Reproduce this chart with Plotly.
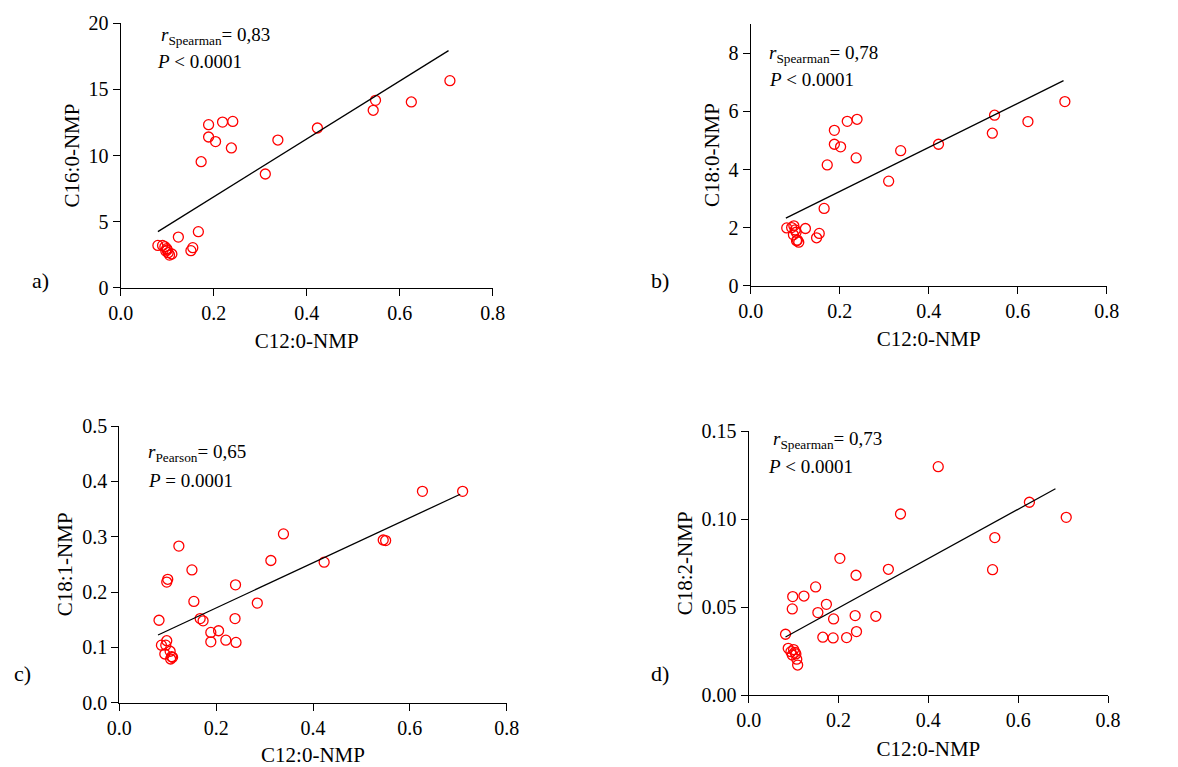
import plotly.graph_objects as go

# ---------------- data ----------------
a_x = [0.080, 0.090, 0.095, 0.099, 0.097, 0.100, 0.102, 0.105, 0.110,
       0.124, 0.151, 0.155, 0.167, 0.173, 0.189, 0.189, 0.204, 0.219, 0.238, 0.241,
       0.311, 0.338, 0.423, 0.543, 0.548, 0.625, 0.708]
a_y = [3.20, 3.20, 3.10, 2.95, 2.77, 2.85, 2.65, 2.47, 2.55,
       3.83, 2.80, 3.03, 4.24, 9.53, 12.33, 11.40, 11.05, 12.53, 10.57, 12.58,
       8.60, 11.17, 12.08, 13.42, 14.17, 14.05, 15.66]

b_x = [0.081, 0.092, 0.097, 0.100, 0.096, 0.102, 0.103, 0.105, 0.108,
       0.123, 0.148, 0.154, 0.165, 0.172, 0.188, 0.188, 0.202, 0.217, 0.237, 0.239,
       0.310, 0.337, 0.422, 0.543, 0.548, 0.623, 0.706]
b_y = [1.99, 2.00, 2.06, 1.92, 1.75, 1.84, 1.55, 1.57, 1.50,
       1.97, 1.65, 1.80, 2.66, 4.16, 5.35, 4.87, 4.78, 5.66, 4.40, 5.73,
       3.60, 4.65, 4.87, 5.25, 5.87, 5.65, 6.34]

c_x = [0.082, 0.087, 0.098, 0.096, 0.094, 0.105, 0.108, 0.106, 0.110, 0.100, 0.098,
       0.123, 0.150, 0.154, 0.167, 0.173, 0.189, 0.205, 0.189, 0.220, 0.241, 0.239, 0.240,
       0.285, 0.313, 0.339, 0.423, 0.545, 0.550, 0.626, 0.709]
c_y = [0.149, 0.104, 0.112, 0.104, 0.088, 0.093, 0.083, 0.079, 0.082, 0.223, 0.218,
       0.283, 0.240, 0.183, 0.152, 0.148, 0.127, 0.130, 0.110, 0.113, 0.109, 0.152, 0.213,
       0.180, 0.257, 0.305, 0.254, 0.294, 0.293, 0.382, 0.382]

d_x = [0.082, 0.088, 0.094, 0.097, 0.100, 0.103, 0.105, 0.107, 0.109, 0.098, 0.097,
       0.123, 0.149, 0.154, 0.173, 0.165, 0.189, 0.188, 0.203, 0.218, 0.239, 0.237, 0.240,
       0.283, 0.311, 0.338, 0.422, 0.543, 0.548, 0.625, 0.707]
d_y = [0.0347, 0.0267, 0.0248, 0.0229, 0.0260, 0.0244, 0.0235, 0.0205, 0.0172, 0.0561, 0.0491,
       0.0564, 0.0616, 0.0470, 0.0517, 0.0330, 0.0434, 0.0326, 0.0778, 0.0328, 0.0682, 0.0453, 0.0362,
       0.0449, 0.0716, 0.1030, 0.1299, 0.0714, 0.0896, 0.1097, 0.1011]

# regression lines as drawn (slope, intercept, x extent)
fit_slope = [21.9, 7.58, 0.4076, 0.1402]
fit_intercept = [2.49, 1.73, 0.0897, 0.0216]
fit_x_range = [[0.080, 0.705], [0.079, 0.703], [0.080, 0.704], [0.082, 0.683]]

y_titles = ["C16:0-NMP", "C18:0-NMP", "C18:1-NMP", "C18:2-NMP"]
x_title = "C12:0-NMP"
panel_labels = ["a)", "b)", "c)", "d)"]
r_texts = ["<i>r</i><sub>Spearman</sub>= 0,83", "<i>r</i><sub>Spearman</sub>= 0,78",
           "<i>r</i><sub>Pearson</sub>= 0,65", "<i>r</i><sub>Spearman</sub>= 0,73"]
p_texts = ["<i>P</i> < 0.0001", "<i>P</i> < 0.0001", "<i>P</i> = 0.0001", "<i>P</i> < 0.0001"]

x_ticks = [0.0, 0.2, 0.4, 0.6, 0.8]
x_ticklabels = ["0.0", "0.2", "0.4", "0.6", "0.8"]
y_ranges = [[0, 20], [0, 9], [0, 0.5], [0, 0.15]]
y_ticks = [[0, 5, 10, 15, 20], [0, 2, 4, 6, 8],
           [0.0, 0.1, 0.2, 0.3, 0.4, 0.5], [0.00, 0.05, 0.10, 0.15]]
y_ticklabels = [["0", "5", "10", "15", "20"], ["0", "2", "4", "6", "8"],
                ["0.0", "0.1", "0.2", "0.3", "0.4", "0.5"], ["0.00", "0.05", "0.10", "0.15"]]

# ---------------- layout geometry ----------------
W, H = 1178, 767
FONT = "Liberation Serif"
# pixel boxes: (x0, x1, ybottom, ytop)
boxes = [(120.7, 492.7, 287.7, 23.3),
         (750.7, 1106.7, 285.7, 24.3),
         (119.3, 506.7, 702.7, 426.0),
         (748.7, 1108.0, 695.3, 431.3)]
label_pos = [(30, 280), (649, 280), (12, 673), (649, 673)]
r_pos = [(159, 36), (767, 54), (146, 453), (771, 440)]
p_pos = [(155, 62), (767, 79), (146, 480), (766, 466)]

xs = [a_x, b_x, c_x, d_x]
ys = [a_y, b_y, c_y, d_y]

fig = go.Figure()
annotations = []
for i in range(4):
    xa = "x" if i == 0 else f"x{i+1}"
    ya = "y" if i == 0 else f"y{i+1}"
    fig.add_trace(go.Scatter(
        x=xs[i], y=ys[i], mode="markers", xaxis=xa, yaxis=ya,
        marker=dict(symbol="circle-open", size=10, color="#ff0000",
                    line=dict(width=1.3, color="#ff0000")),
        showlegend=False, hoverinfo="x+y"))
    lx = fit_x_range[i]
    ly = [fit_slope[i] * v + fit_intercept[i] for v in lx]
    fig.add_trace(go.Scatter(
        x=lx, y=ly, mode="lines", xaxis=xa, yaxis=ya,
        line=dict(color="black", width=1.3), showlegend=False, hoverinfo="skip"))

    x0, x1, yb, yt = boxes[i]
    axis_common = dict(showline=True, linecolor="black", linewidth=1.3,
                       ticks="outside", ticklen=7, tickwidth=1.3, tickcolor="black",
                       showgrid=False, zeroline=False, automargin=False,
                       tickfont=dict(family=FONT, size=20, color="black"))
    fig.layout[f"xaxis{'' if i == 0 else i+1}"] = dict(
        domain=[x0 / W, x1 / W], anchor=ya, range=[0, 0.8],
        tickvals=x_ticks, ticktext=x_ticklabels,
        title=dict(text=x_title, font=dict(family=FONT, size=21, color="black"), standoff=10),
        **axis_common)
    fig.layout[f"yaxis{'' if i == 0 else i+1}"] = dict(
        domain=[1 - yb / H, 1 - yt / H], anchor=xa, range=y_ranges[i],
        tickvals=y_ticks[i], ticktext=y_ticklabels[i],
        title=dict(text=y_titles[i], font=dict(family=FONT, size=21, color="black"), standoff=3),
        **axis_common)

    annotations.append(dict(xref="paper", yref="paper", x=label_pos[i][0] / W, y=1 - label_pos[i][1] / H,
                            text=panel_labels[i], showarrow=False, xanchor="left", yanchor="middle",
                            align="left", font=dict(family=FONT, size=22, color="black")))
    annotations.append(dict(xref="paper", yref="paper", x=r_pos[i][0] / W, y=1 - r_pos[i][1] / H,
                            text=r_texts[i], showarrow=False, xanchor="left", yanchor="middle",
                            align="left", font=dict(family=FONT, size=19, color="black")))
    annotations.append(dict(xref="paper", yref="paper", x=p_pos[i][0] / W, y=1 - p_pos[i][1] / H,
                            text=p_texts[i], showarrow=False, xanchor="left", yanchor="middle",
                            align="left", font=dict(family=FONT, size=19, color="black")))

fig.update_layout(width=W, height=H, margin=dict(l=0, r=0, t=0, b=0, autoexpand=False),
                  paper_bgcolor="white", plot_bgcolor="white",
                  annotations=annotations, font=dict(family=FONT, color="black"))

fig.write_html("out.html", config={"displayModeBar": False},
               post_script="document.body.style.margin='0';document.body.style.padding='0';")
